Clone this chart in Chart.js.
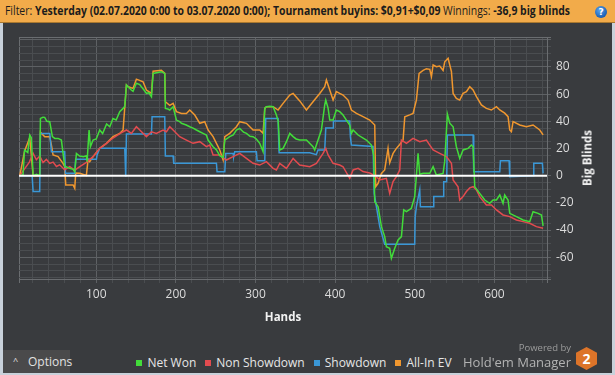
<!DOCTYPE html>
<html>
<head>
<meta charset="utf-8">
<script src="https://cdn.jsdelivr.net/npm/chart.js@4/dist/chart.umd.min.js"></script>
<style>
  html, body { margin: 0; padding: 0; }
  body { width: 615px; height: 375px; position: relative; overflow: hidden; background: #c8d1da; font-family: "Open Sans", sans-serif; }
  #panel { position: absolute; left: 3px; top: 0; width: 609px; height: 373px; background: #393b3e; }
  #header { position: absolute; left: 0; top: 0; width: 615px; height: 22px; background: #f2ab4a; border-bottom: 1px solid #a9782f; }
  #htext { position: absolute; left: 5px; top: 0; line-height: 22px; font-size: 12px; color: #1c1c1c; white-space: nowrap; transform-origin: 0 50%; }
  #htext b { font-weight: 700; }
  #help { position: absolute; left: 595px; top: 6px; width: 12px; height: 12px; border-radius: 50%; background: radial-gradient(circle at 40% 35%, #5aa6f0, #1a5fb4 70%); color: #fff; font: bold 9px "DejaVu Sans", sans-serif; text-align: center; line-height: 12px; }
  #chart { position: absolute; left: 3px; top: 22px; }
  #ytitle { position: absolute; left: 587px; top: 158px; transform: translate(-50%, -50%) rotate(-90deg); color: #f2f2f2; font-weight: 700; font-size: 11.5px; white-space: nowrap; }
  #legend { position: absolute; left: 4px; top: 354px; width: 580px; display: flex; justify-content: center; gap: 9px; font-size: 12px; color: #e6e6e6; line-height: 18px; }
  #legend span.item { display: flex; align-items: center; }
  #legend i { display: inline-block; width: 6px; height: 6px; margin-right: 5px; }
  #options { position: absolute; left: 3px; top: 350px; width: 67px; height: 23px; background: #4a4a4b; color: #e2e2e2; font-size: 12px; line-height: 23px; }
  #options .caret { position: absolute; left: 10px; top: -1px; font-size: 9px; }
  #options .lbl { position: absolute; left: 25px; }
  #powered { position: absolute; right: 44px; top: 341px; font-size: 9.5px; color: #9c9c9c; }
  #hm { position: absolute; right: 44px; top: 353px; font-size: 13px; color: #b3b3b3; line-height: 18px; }
  #hex { position: absolute; left: 576px; top: 347px; width: 21px; height: 23px; background: #dd7429; clip-path: polygon(50% 0, 100% 25%, 100% 75%, 50% 100%, 0 75%, 0 25%); color: #fff; font-weight: 700; font-size: 14px; text-align: center; line-height: 23px; }
</style>
</head>
<body>
<div id="panel"></div>
<div id="header">
  <div id="htext">Filter: <b>Yesterday (02.07.2020 0:00 to 03.07.2020 0:00); Tournament buyins: $0,91+$0,09</b> Winnings: <b>-36,9 big blinds</b></div>
  <div id="help">?</div>
</div>
<canvas id="chart" width="609" height="323"></canvas>
<div id="ytitle">Big Blinds</div>
<div id="legend"></div>
<div id="options"><span class="caret">^</span><span class="lbl">Options</span></div>
<div id="powered">Powered by</div>
<div id="hm">Hold'em Manager</div>
<div id="hex">2</div>
<script>
// series: [hand, big blinds]
const netWon = [[4,0],[8,0.5],[10,18.9],[14,17],[16.5,29.9],[18.5,28],[20.7,0],[25,1],[29,0],[29.9,42.1],[33,43],[35.3,42.9],[38,40],[41.6,39.7],[44.9,28.7],[48,27.4],[52.1,27.4],[56.2,26.2],[60.4,7],[62,6.6],[66.7,5.4],[70.9,4.7],[73,2.9],[75.1,16.4],[79,14.5],[84,14],[87.6,14.7],[88.5,10.3],[91,33.6],[92.7,21.3],[96,26.2],[100,27],[104.4,33.6],[108,31],[113,38],[117,36],[121,42],[125,41],[129.5,47],[133.7,49.5],[135.8,51],[137.9,66.7],[140,65.4],[144,63],[146.2,62],[150.4,68],[154.6,67],[156.7,65.4],[160,63],[163,60.5],[166,61],[169.3,58.1],[171.4,75.2],[175.5,75.7],[181.8,76.5],[186,75.2],[186.8,49.5],[190,49],[192.3,48.3],[196.5,50.7],[200.7,40.9],[204.8,39.7],[207,38.5],[213,37.3],[217.4,36],[221.6,35],[225.8,33.6],[230,32.3],[234.1,31.1],[238.3,29.9],[240.4,26.2],[246.7,21.3],[251,18.9],[255.1,14.7],[259.3,13.4],[261.4,26.2],[267.6,28.7],[272,30],[276,33.6],[280.2,34.8],[285,32],[288.6,31.1],[293,29],[296.9,28.7],[301,27],[305.3,23.8],[309.5,17.6],[311.6,49.5],[313.7,50.7],[318,51],[322.1,50.7],[326.2,44.6],[328.5,40],[330.4,18.9],[334.6,20.1],[338.8,25],[343,31.1],[347.2,28.7],[351,27],[355.5,26.2],[363.9,26.2],[372.2,21.3],[374.3,18.9],[378.5,26.2],[382.7,33.6],[386.9,52],[388.2,55.6],[391.1,49.7],[393.2,40.9],[397.4,40.9],[401.5,48.3],[405.7,47.1],[409.9,44.6],[414.1,40.9],[418.3,37.3],[420.4,31.1],[422.5,33.6],[428.8,29.9],[439.2,26.2],[445.5,22.5],[448.4,15],[449.7,-19.1],[453.9,-22.8],[458.1,-37.5],[462.2,-44.8],[464.3,-52.2],[468.5,-53.4],[470.6,-60.8],[474.8,-53.4],[479,-47.3],[483.2,-44.8],[486.1,-25.2],[489.5,-26.5],[495.7,-24],[499.9,-15.4],[502,0],[504.1,16.4],[506.2,1],[510.4,1.7],[518.8,1.7],[523,6.6],[527.1,0.5],[535.5,1.7],[537.6,10.7],[540.9,45.3],[543.9,38.6],[548.1,36],[552.2,21.3],[556.4,12.7],[560.6,18.9],[566.9,20.1],[571.1,22.5],[573.2,21.3],[575.3,-8.1],[581.5,-13],[587.8,-17.9],[594.1,-20.3],[598.3,-17.9],[602.5,-17.9],[606.7,-14.2],[610.8,-20.3],[612.9,-14.2],[617.1,-17.9],[619.2,-27.7],[627.6,-30.1],[636,-32.6],[644.3,-33.8],[648.5,-26.5],[654.8,-27.7],[659,-28.9],[661.1,-36.9]];

const nonShowdown = [[4,0],[10,5],[16,10],[20.7,16.4],[24.8,11.7],[29,14.5],[33.2,9.7],[37.4,12],[41.6,9],[45.8,10],[50,6.8],[54,8],[60.4,4.4],[66.7,6.6],[73,4],[79.3,6.6],[87.6,9.8],[96,14],[104.4,20.1],[112.8,23.8],[121.1,27.7],[129.5,31],[137.9,33.6],[144.1,31.1],[150.4,36],[154.6,33.6],[163,28.7],[169.3,32.3],[175.5,31.1],[183.9,33.6],[188.1,32.3],[192.3,36],[196.5,33.6],[204.8,28.7],[213.2,26.2],[221.6,23.8],[230,25],[238.3,21.3],[242.5,22.5],[246.7,15.2],[255.1,15.2],[263.4,11.5],[271.8,14],[280.2,16.4],[288.6,12.7],[296.9,9.1],[305.3,7.8],[313.7,10.3],[322.1,5.4],[326.2,4.2],[330.4,9.1],[338.8,5.4],[347.2,12.7],[355.5,7.8],[368.1,6.6],[376.4,9.1],[384.8,16.4],[388.2,20.1],[391.1,15.2],[397.4,9.1],[405.7,7.8],[409.9,6.6],[418.3,-2],[422.5,4.2],[428.8,5.4],[435,3],[443.4,2],[451.8,-0.7],[456,-3.2],[464.3,-2],[468.5,-13],[472.7,-4.4],[476.9,-0.7],[481.1,4.2],[483.2,26.2],[489.5,23.8],[497.8,27.4],[506.2,25],[514.6,26.2],[518.8,22.5],[523,18.9],[531.3,16.4],[539.7,14],[546,9.1],[548.1,-3.2],[554.3,-8.1],[556.4,-17.9],[560.6,-15.4],[564.8,-11.7],[569,-9],[573.2,-8.1],[577.4,-10.5],[581.5,-15.4],[589.9,-21.6],[596.2,-21.6],[602.5,-25.2],[610.8,-28.9],[619.2,-30.1],[627.6,-32.6],[636,-33.8],[644.3,-35],[652.7,-37.5],[661.1,-38.7]];

const showdown = [[4,0],[19.5,0],[20.7,-11.7],[29,-11.7],[29.9,31],[41.6,31],[43.7,17.6],[60.4,17.6],[61.3,1.7],[73,1.7],[74.2,12],[100.2,12],[101,15],[104.4,20.1],[135.8,20.1],[137,-0.7],[137.9,30.6],[169.3,30.6],[170.1,43.4],[186,43.4],[186.8,14.4],[196.5,14.4],[197.3,9.1],[250.9,9.1],[251.7,2.9],[261.4,2.9],[262.6,16.4],[271.8,16.4],[272.6,14],[273.9,17.6],[301.1,17.6],[302,11],[311.6,11],[312.8,42.1],[328.3,42.1],[329.6,16.9],[368.1,16.9],[376.4,15.5],[378.5,18.9],[386.9,18.9],[388.2,35],[397.4,35],[397.8,40.2],[418.3,40.2],[419.1,28.7],[420.4,22.5],[447.6,21.5],[449,-13],[456,-37.5],[462.2,-50.5],[499.9,-50.5],[500.5,-30.1],[502,-22.8],[506.2,-10.5],[507,-22.8],[523,-22.8],[523.8,-15.4],[535.5,-15.4],[536.3,-4.4],[540,-4.4],[540.9,29.9],[573.2,29.9],[574,2.9],[606.7,2.9],[607.5,11],[618.4,11],[619.2,-0.7],[648.5,0],[649.4,9.1],[660.2,9.1],[661.1,1.7]];

const allInEV = [[4,0],[10,18],[16.5,28],[20.7,0],[29,0],[29.9,32],[35.3,28.7],[41.6,28.7],[43.7,22.5],[45.8,15.2],[52.1,14],[58.3,9.1],[60.4,6.6],[61.7,-6.8],[70.9,-6.8],[73,-9.3],[74.2,2],[79.3,1.7],[87.6,0.2],[89.7,12],[91.8,10.3],[96,14],[104.4,20.1],[112.8,23.8],[121.1,28.7],[129.5,31],[133.7,33.6],[137.9,66.7],[140,65.4],[146.2,64.2],[150.4,71],[158.8,69.1],[163,63],[169.3,60.5],[171.4,76.8],[181.8,77.6],[186,75.2],[186.8,54.4],[192.3,51.7],[196.5,53.2],[200.7,47.1],[207,45.8],[213.2,45.8],[217.4,48.3],[223.7,44.6],[230,38.5],[236.2,39.7],[240.4,33.6],[246.7,28.7],[255.1,18.9],[259.3,11.5],[261.4,28.7],[267.6,31.1],[271.8,33.6],[276,36],[280.2,39.7],[288.6,38.5],[296.9,33.6],[305.3,33.6],[309.5,31.1],[311.6,49.5],[313.7,50.7],[322.1,50.7],[328.3,48.3],[334.6,53.2],[343,59.3],[347.2,60.5],[355.5,55],[363.9,48.3],[372.2,54.4],[380.6,60.5],[386.9,65.4],[389,70.4],[393.2,63],[397.4,55.6],[401.5,61.8],[405.7,60.5],[409.9,59.3],[416.2,55.6],[420.4,48.3],[426.7,45.8],[435,43.4],[443.4,40.9],[449.7,37.3],[450.9,-8.1],[453.9,-5.6],[458.1,1.7],[462.2,4.2],[466.4,20.1],[468.5,9.5],[472.7,16.4],[476.9,20.1],[481.1,22.9],[485.3,26.2],[487.4,43.4],[493.6,44.7],[497.8,45.8],[502,55.6],[505.4,75.2],[510.4,77.4],[514.6,78.7],[518.8,78.2],[520.9,72.8],[523,81.4],[527.1,80.1],[531.3,80.6],[535.5,77.4],[537.6,83.8],[541.8,86.3],[543.9,81.4],[546,76.5],[548.1,60.5],[552.2,56.9],[556.4,55.6],[560.6,60.5],[564.8,61.8],[569,65.4],[573.2,63],[577.4,58.1],[583.6,52],[589.9,49.5],[596.2,48.3],[602.5,50.7],[606.7,48.3],[612.9,46],[617.1,43.4],[619.2,33.6],[621.3,32.3],[623.4,39.7],[631.8,37.3],[640.1,36],[648.5,37.3],[656.9,33.6],[661.1,30]];

const seriesNames = ["Net Won", "Non Showdown", "Showdown", "All-In EV"];
const seriesData = [netWon, nonShowdown, showdown, allInEV];
const seriesColors = ["#42dc3a", "#e24b4f", "#3a97d6", "#f0972f"];

const handsMin = 3, handsMax = 666;
const bbMin = -76, bbMax = 102;
const yLabels = [-60, -40, -20, 0, 20, 40, 60, 80];
const xLabels = [100, 200, 300, 400, 500, 600];

// legend
const legend = document.getElementById("legend");
seriesNames.forEach((name, i) => {
    const item = document.createElement("span");
    item.className = "item";
    item.innerHTML = `<i style="background:${seriesColors[i]}"></i>${name}`;
    legend.appendChild(item);
});

// squeeze header text like the original UI
const ht = document.getElementById("htext");
ht.style.transform = `scaleX(${565 / ht.getBoundingClientRect().width})`;

function stepTicks(min, max, step) {
    const t = [{value: min}];
    for (let v = Math.ceil((min + 0.5) / step) * step; v < max - 0.5; v += step) t.push({value: v});
    t.push({value: max});
    return t;
}

const gridMinor = "#4a4d50", gridMajor = "#5e6164", frame = "#6a6d70";

const zeroLine = {
    id: "zeroLine",
    afterDatasetsDraw(chart) {
        const {ctx, chartArea, scales} = chart;
        const y = scales.y.getPixelForValue(0);
        ctx.save();
        ctx.strokeStyle = "#ffffff";
        ctx.lineWidth = 2;
        ctx.beginPath();
        ctx.moveTo(chartArea.left, y);
        ctx.lineTo(chartArea.right, y);
        ctx.stroke();
        ctx.restore();
    }
};

new Chart(document.getElementById("chart").getContext("2d"), {
    type: "line",
    data: {
        datasets: seriesData.map((s, i) => ({
            label: seriesNames[i],
            data: s.map(p => ({x: p[0], y: p[1]})),
            borderColor: seriesColors[i],
            borderWidth: 1.5,
            pointRadius: 0,
            tension: 0,
            fill: false
        }))
    },
    options: {
        responsive: false,
        animation: false,
        devicePixelRatio: 1,
        layout: { padding: { left: 16, top: 15, right: 0, bottom: 0 } },
        plugins: { legend: { display: false }, tooltip: { enabled: false } },
        scales: {
            x: {
                type: "linear",
                min: handsMin,
                max: handsMax,
                afterBuildTicks: s => { s.ticks = stepTicks(handsMin, handsMax, 20); },
                afterFit: s => { s.height = 66; },
                grid: {
                    color: c => (c.tick.value === handsMin || c.tick.value === handsMax) ? frame : (c.tick.value % 100 === 0 ? gridMajor : gridMinor),
                    tickLength: 4
                },
                border: { color: frame },
                ticks: {
                    autoSkip: false,
                    maxRotation: 0,
                    padding: 4,
                    color: "#dcdcdc",
                    font: { family: "Open Sans", size: 12 },
                    callback: v => (xLabels.includes(v) ? v : "")
                },
                title: {
                    display: true,
                    text: "Hands",
                    color: "#f2f2f2",
                    font: { family: "Open Sans", size: 11.5, weight: "bold" },
                    padding: { top: 4, bottom: 20 }
                }
            },
            y: {
                position: "right",
                min: bbMin,
                max: bbMax,
                afterBuildTicks: s => { s.ticks = stepTicks(bbMin, bbMax, 5); },
                afterFit: s => { s.width = 65; },
                grid: {
                    color: c => (c.tick.value === bbMin || c.tick.value === bbMax) ? frame : (c.tick.value % 20 === 0 ? gridMajor : gridMinor),
                    tickLength: 4
                },
                border: { color: frame },
                ticks: {
                    autoSkip: false,
                    padding: 5,
                    color: "#dcdcdc",
                    font: { family: "Open Sans", size: 12 },
                    callback: v => (yLabels.includes(v) ? v : "")
                }
            }
        }
    },
    plugins: [zeroLine]
});
</script>
</body>
</html>
